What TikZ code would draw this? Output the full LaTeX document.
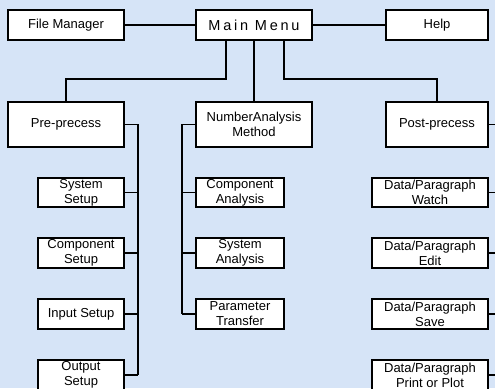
\documentclass[tikz,border=0pt]{standalone}
\usepackage{fontspec}
\setmainfont{Liberation Sans}
\newfontfamily\menufont[LetterSpace=19]{Liberation Sans}
\begin{document}
\begin{tikzpicture}[x=1pt,y=-1pt,
  bgc/.style={fill={rgb,255:red,214;green,228;blue,247}},
  box/.style={draw=black, fill=white, line width=1.8pt, inner sep=0pt, minimum height=#1},
  box/.default=30pt,
  lbl/.style={font=\fontsize{13}{15}\selectfont, align=center, inner sep=0pt},
  conn/.style={draw=black, line width=1.8pt},
]
\useasboundingbox (0,0) rectangle (495,388);
\clip (0,0) rectangle (495,388);
\fill[bgc] (0,0) rectangle (495,388);

% top row
\node[box, minimum width=116pt] (fm) at (66,25) {};
\node[lbl] (fmt) at (fm.center) {File Manager};
\node[box, minimum width=116pt] (mm) at (254,25) {};
\node[inner sep=0pt, font=\menufont\fontsize{14.5}{16}\selectfont] (mmt) at (mm.center) {Main Menu};
\node[box, minimum width=102pt] (help) at (437,25) {};
\node[lbl] (helpt) at (help.center) {Help};

% second row
\node[box=45pt, minimum width=116pt] (pre) at (66,124.5) {};
\node[lbl] (pret) at (pre.center) {Pre-precess};
\node[box=45pt, minimum width=116pt] (num) at (254,124.5) {};
\node[lbl] (numt) at (num.center) {NumberAnalysis\\Method};
\node[box=45pt, minimum width=102pt] (post) at (437,124.5) {};
\node[lbl] (postt) at (post.center) {Post-precess};

% left children
\node[box=29pt, minimum width=86pt] (l1) at (81,192.5) {};
\node[lbl] (l1t) at (l1.center) {System\\Setup};
\node[box, minimum width=86pt] (l2) at (81,253) {};
\node[lbl] (l2t) at (l2.center) {Component\\Setup};
\node[box, minimum width=86pt] (l3) at (81,314) {};
\node[lbl] (l3t) at (l3.center) {Input Setup};
\node[box, minimum width=86pt] (l4) at (81,375) {};
\node[lbl] (l4t) at (l4.center) {Output\\Setup};

% middle children
\node[box=29pt, minimum width=88pt] (m1) at (240,192.5) {};
\node[lbl] (m1t) at (m1.center) {Component\\Analysis};
\node[box, minimum width=88pt] (m2) at (240,253) {};
\node[lbl] (m2t) at (m2.center) {System\\Analysis};
\node[box, minimum width=88pt] (m3) at (240,314) {};
\node[lbl] (m3t) at (m3.center) {Parameter\\Transfer};

% right children
\node[box=29pt, minimum width=116pt] (r1) at (430,192.5) {};
\node[lbl] (r1t) at (r1.center) {Data/Paragraph\\Watch};
\node[box, minimum width=116pt] (r2) at (430,253) {};
\node[lbl] (r2t) at (r2.center) {Data/Paragraph\\Edit};
\node[box, minimum width=116pt] (r3) at (430,314) {};
\node[lbl] (r3t) at (r3.center) {Data/Paragraph\\Save};
\node[box, minimum width=116pt] (r4) at (430,375) {};
\node[lbl] (r4t) at (r4.center) {Data/Paragraph\\Print or Plot};

% bus coordinates
\coordinate (pbus) at (138,375);
\coordinate (nbus) at (182,314);
\coordinate (rbus) at (500,375);

% connectors
\begin{scope}[on background layer/.style={}]
\draw[conn] (fm.east) -- (mm.west);
\draw[conn] (mm.east) -- (help.west);
\draw[conn] ([xshift=-28pt]mm.south) -- ++(0,38) -| (pre.north);
\draw[conn] (mm.south) -- (num.north);
\draw[conn] ([xshift=30pt]mm.south) -- ++(0,38) -| (post.north);

\draw[conn] (pre.east) -| (pbus);
\foreach \n in {l1,l2,l3,l4} \draw[conn] (\n.east) -- (\n.east -| pbus);

\draw[conn] (num.west) -| (nbus);
\foreach \n in {m1,m2,m3} \draw[conn] (\n.west) -- (\n.west -| nbus);

\draw[conn] (post.east) -- (post.east -| rbus);
\foreach \n in {r1,r2,r3,r4} \draw[conn] (\n.east) -- (\n.east -| rbus);
\end{scope}
\end{tikzpicture}
\end{document}
